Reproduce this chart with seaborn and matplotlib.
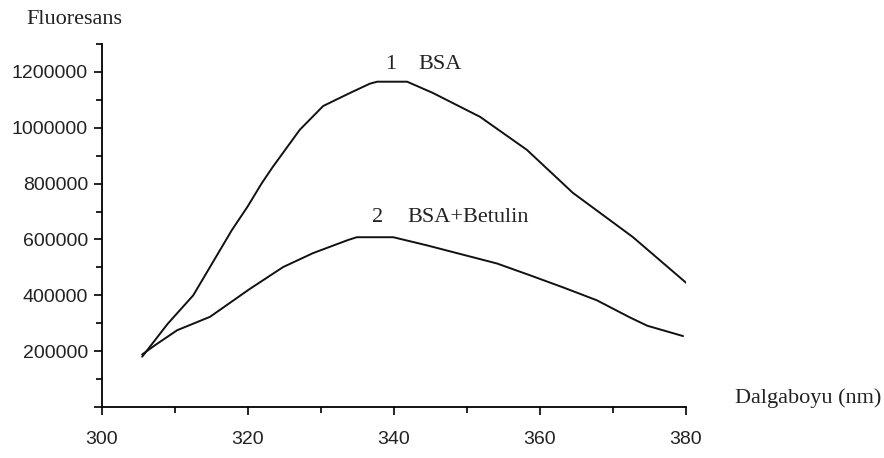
import matplotlib
matplotlib.use("Agg")
import matplotlib.pyplot as plt
import seaborn as sns
import pandas as pd
from matplotlib.ticker import FixedLocator, MultipleLocator

# ---- data ----
wl_bsa = [305.5, 309.0, 312.5, 317.8, 319.9, 321.9, 323.4, 327.1, 330.3, 334.0,
          336.7, 337.7, 341.8, 345.3, 351.8, 358.2, 364.5, 372.7, 380.1]
fl_bsa = [180000, 298000, 400000, 634000, 716000, 802000, 860000, 993000,
          1078000, 1125000, 1158000, 1165000, 1165000, 1125000, 1039000,
          921000, 767000, 609000, 443000]

wl_bet = [305.5, 307.3, 310.3, 314.8, 320.2, 324.8, 328.9, 333.7, 334.9, 339.9,
          344.5, 354.1, 358.6, 363.2, 367.8, 372.3, 374.7, 379.6]
fl_bet = [188000, 222000, 275000, 323000, 422000, 501000, 551000, 598000,
          608000, 608000, 579000, 514000, 472000, 428000, 382000, 321000,
          291000, 254000]

x_ticks = [300, 320, 340, 360, 380]
y_ticks = [200000, 400000, 600000, 800000, 1000000, 1200000]
y_tick_labels = ["200000", "400000", "600000", "800000", "1000000", "1200000"]

curve_labels = [("1", "BSA"), ("2", "BSA+Betulin")]
label_anchor = [(339.5, 1226000), (337.7, 677000)]
label_gap = [3.8, 4.1]

sns.set_theme(style="ticks")
plt.rcParams["font.family"] = ["Liberation Sans", "DejaVu Sans"]

fig = plt.figure(figsize=(8.84, 4.58), dpi=100)
ax = fig.add_axes([102 / 884, 1 - 407 / 458, (686 - 102) / 884, (407 - 44) / 458])

df1 = pd.DataFrame({"wl": wl_bsa, "fl": fl_bsa})
df2 = pd.DataFrame({"wl": wl_bet, "fl": fl_bet})
sns.lineplot(data=df1, x="wl", y="fl", ax=ax, color="#111111", lw=1.4, sort=False)
sns.lineplot(data=df2, x="wl", y="fl", ax=ax, color="#111111", lw=1.4, sort=False)

ax.set_xlim(300, 380)
ax.set_ylim(0, 1300000)
ax.xaxis.set_major_locator(FixedLocator(x_ticks))
ax.xaxis.set_minor_locator(MultipleLocator(10))
ax.set_xticklabels([str(v) for v in x_ticks])
ax.yaxis.set_major_locator(FixedLocator([0] + y_ticks))
ax.yaxis.set_minor_locator(MultipleLocator(100000))
ax.set_yticklabels([""] + y_tick_labels)

for s in ["top", "right"]:
    ax.spines[s].set_visible(False)
for s in ["left", "bottom"]:
    ax.spines[s].set_linewidth(1.3)
    ax.spines[s].set_color("black")

ax.tick_params(axis="both", which="major", length=6, width=1.2, colors="black",
               labelsize=14, direction="out")
ax.tick_params(axis="both", which="minor", length=4, width=1.2, colors="black",
               direction="out")
ax.tick_params(axis="x", which="major", pad=11)
ax.tick_params(axis="y", which="major", pad=4)
for lab in ax.get_xticklabels() + ax.get_yticklabels():
    lab.set_color("#222222")

ax.set_xlabel("")
ax.set_ylabel("")
serif = ["Liberation Serif", "DejaVu Serif"]
fig.text(26 / 884, 1 - 19 / 458, "Fluoresans", family=serif, fontsize=16,
         ha="left", va="center", color="#222222")
fig.text(735 / 884, 1 - 398 / 458, "Dalgaboyu (nm)", family=serif, fontsize=16,
         ha="left", va="center", color="#222222")

for (num, name), (xa, ya), gap in zip(curve_labels, label_anchor, label_gap):
    ax.text(xa, ya, num, family=serif, fontsize=16, ha="center", va="center",
            color="#222222")
    ax.text(xa + gap, ya, name, family=serif, fontsize=16, ha="left", va="center",
            color="#222222")

fig.savefig("out.png", dpi=100, facecolor="white")
